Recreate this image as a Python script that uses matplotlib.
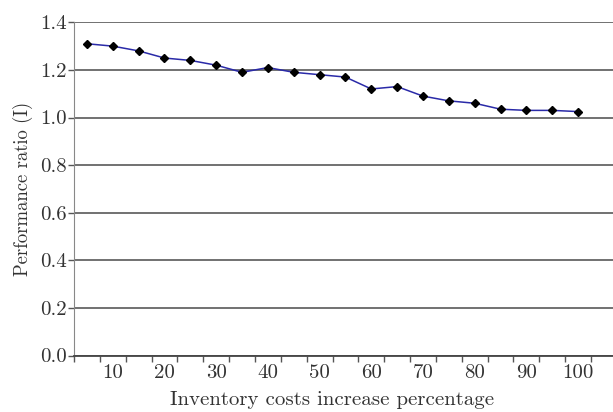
import matplotlib
matplotlib.use("Agg")
import matplotlib.pyplot as plt
import numpy as np

# Inventory cost increase (%) and the resulting performance ratio
increase_pct = [5, 10, 15, 20, 25, 30, 35, 40, 45, 50,
                55, 60, 65, 70, 75, 80, 85, 90, 95, 100]
perf_ratio = [1.31, 1.30, 1.28, 1.25, 1.24, 1.22, 1.19, 1.21, 1.19, 1.18,
              1.17, 1.12, 1.13, 1.09, 1.07, 1.06, 1.035, 1.03, 1.03, 1.025]
labelled = [10, 20, 30, 40, 50, 60, 70, 80, 90, 100]
y_ticks = [0.0, 0.2, 0.4, 0.6, 0.8, 1.0, 1.2, 1.4]

plt.rcParams["font.family"] = "serif"
plt.rcParams["font.serif"] = ["cmr10", "DejaVu Serif"]
plt.rcParams["axes.formatter.use_mathtext"] = True

fig = plt.figure(figsize=(6.13, 4.12), dpi=100)
ax = fig.add_axes([0.1207, 0.1371, 0.8793, 0.8087])

# category axis: category i centred at i + 0.5, ticks on the boundaries
n = len(increase_pct)
centres = np.arange(n) + 0.5
ax.plot(centres, perf_ratio, color="#2a2aa8", lw=1.1, marker="D",
        markersize=4.5, markerfacecolor="black", markeredgecolor="black", zorder=3)

ax.set_xlim(0, 20.85)
ax.set_ylim(0, 1.4)

ax.set_xticks(np.arange(n + 1))
ax.set_xticklabels([])
ax.set_xticks([centres[increase_pct.index(v)] for v in labelled], minor=True)
ax.set_xticklabels([str(v) for v in labelled], minor=True)
ax.tick_params(axis="x", which="major", length=4, width=1, color="#555555", direction="out")
ax.tick_params(axis="x", which="minor", length=0, pad=6, labelsize=15, labelcolor="#333333")

ax.set_yticks(y_ticks)
ax.set_yticklabels([f"{v:.1f}" for v in y_ticks])
ax.tick_params(axis="y", length=4, width=1, color="#555555", labelsize=15,
               labelcolor="#333333", pad=1)

ax.yaxis.grid(True, color="#666666", lw=1.3)
ax.set_axisbelow(True)
for side in ("top", "right"):
    ax.spines[side].set_visible(False)
ax.spines["left"].set_color("#888888")
ax.spines["bottom"].set_color("#444444")
ax.spines["bottom"].set_linewidth(1.3)

ax.set_xlabel("Inventory costs increase percentage", fontsize=15, color="#333333")
# centred on the 20 categories rather than the whole axes
ax.xaxis.set_label_coords(n / 2 / 20.85, -0.106)
ax.set_ylabel("Performance ratio (I)", fontsize=13.5, color="#333333", labelpad=5)

fig.savefig("out.png", dpi=100)
